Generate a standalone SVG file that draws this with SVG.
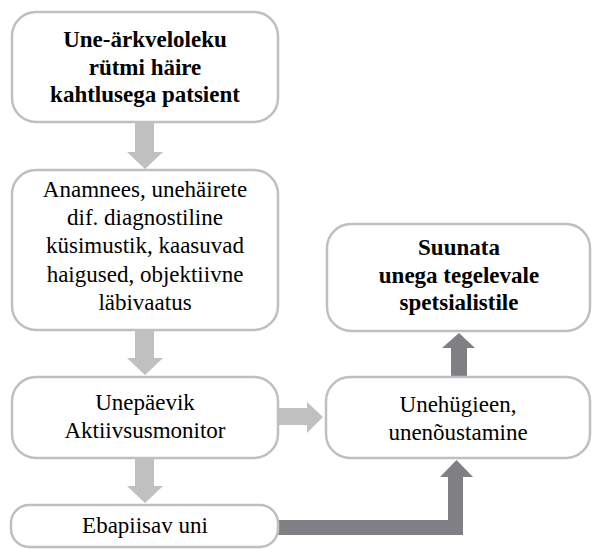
<svg xmlns="http://www.w3.org/2000/svg" width="592" height="549" viewBox="0 0 592 549">
<style>
.box{fill:#fff;stroke:#bfbfbf;stroke-width:2.5}
.t{font-family:'Liberation Serif',Tinos,'Noto Serif','DejaVu Serif','Nimbus Roman','FreeSerif',Times,'Times New Roman',Georgia,serif;font-size:23px;fill:#000;text-anchor:middle}
.b{font-weight:bold}
.lt{fill:#c0c0c0}
.dk{fill:#808084}
</style>
<rect width="592" height="549" fill="#fff"/>
<g id="connectors">
<polygon class="lt" points="135,122 154,122 154,152 163,152 145,169 127,152 135,152"/>
<polygon class="lt" points="135,330 154,330 154,358 163,358 145,375 127,358 135,358"/>
<polygon class="lt" points="135,458 154,458 154,486 163,486 145,503 127,486 135,486"/>
<polygon class="lt" points="278,408 307,408 307,402 323,417 307,433 307,425 278,425"/>
<polygon class="dk" points="451,377 467,377 467,348 475,348 459,333 442,348 451,348"/>
<polygon class="dk" points="278,520 448,520 448,477 440,477 456.5,460 473,477 463,477 463,535 278,535"/>
</g>
<g id="n1">
<rect class="box" x="12" y="12" width="266" height="110" rx="24"/>
<text class="t b" x="145" y="47">Une-ärkveloleku</text>
<text class="t b" x="145" y="75">rütmi häire</text>
<text class="t b" x="145" y="102">kahtlusega patsient</text>
</g>
<g id="n2">
<rect class="box" x="12" y="170" width="266" height="160" rx="24"/>
<text class="t" x="145" y="197">Anamnees, unehäirete</text>
<text class="t" x="145" y="225">dif. diagnostiline</text>
<text class="t" x="145" y="253">küsimustik, kaasuvad</text>
<text class="t" x="145" y="282">haigused, objektiivne</text>
<text class="t" x="145" y="310">läbivaatus</text>
</g>
<g id="n3">
<rect class="box" x="12" y="377" width="266" height="81" rx="24"/>
<text class="t" x="145" y="410">Unepäevik</text>
<text class="t" x="145" y="438">Aktiivsusmonitor</text>
</g>
<g id="n4">
<rect class="box" x="11" y="505" width="267" height="42" rx="18"/>
<text class="t" x="145" y="533">Ebapiisav uni</text>
</g>
<g id="n5">
<rect class="box" x="327" y="224" width="263" height="107" rx="24"/>
<text class="t b" x="459" y="255">Suunata</text>
<text class="t b" x="459" y="283">unega tegelevale</text>
<text class="t b" x="459" y="310">spetsialistile</text>
</g>
<g id="n6">
<rect class="box" x="326" y="377" width="264" height="81" rx="24"/>
<text class="t" x="458" y="412">Unehügieen,</text>
<text class="t" x="458" y="440">unenõustamine</text>
</g>
</svg>
